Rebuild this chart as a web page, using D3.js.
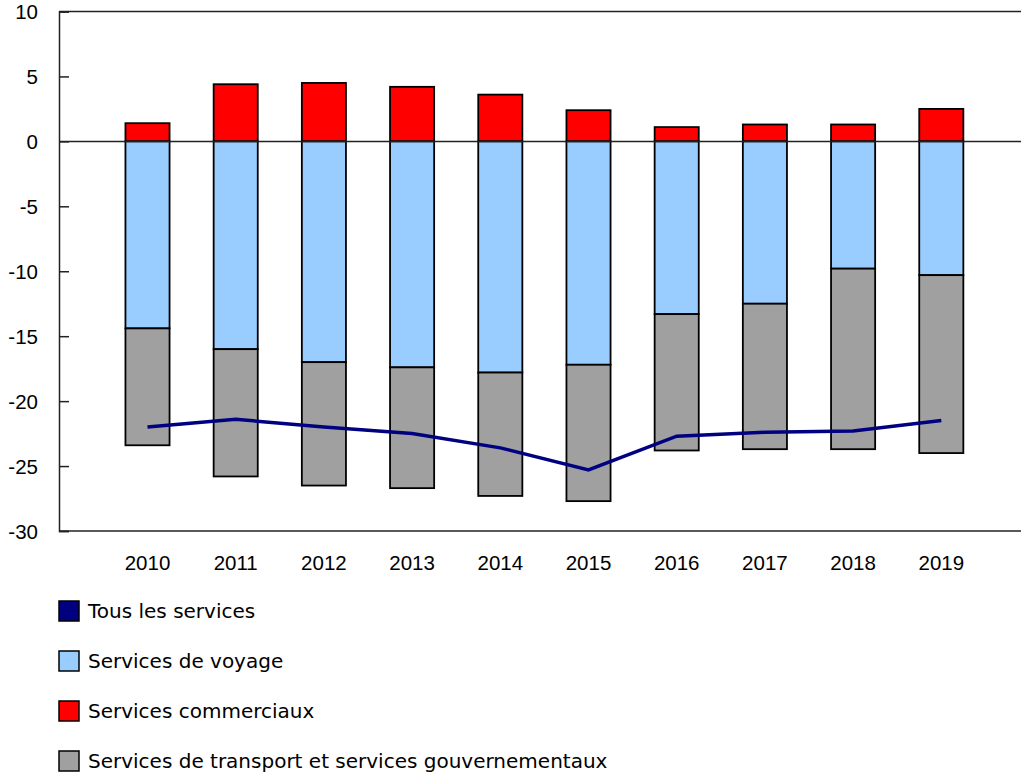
<!DOCTYPE html>
<html>
<head>
<meta charset="utf-8">
<script src="https://cdn.jsdelivr.net/npm/d3@7"></script>
<style>
  body { margin: 0; background: #fff; }
  svg { display: block; font-family: "DejaVu Sans", Verdana, sans-serif; }
  .tick text { font-size: 20.5px; fill: #000; }
  .legend text { font-size: 20px; fill: #000; }
</style>
</head>
<body>
<script>
// data (billions of dollars)
var years = ["2010","2011","2012","2013","2014","2015","2016","2017","2018","2019"];
var commercial = [1.4, 4.4, 4.5, 4.2, 3.6, 2.4, 1.1, 1.3, 1.3, 2.5];
var travel = [-14.4, -16.0, -17.0, -17.4, -17.8, -17.2, -13.3, -12.5, -9.8, -10.3];
var transport = [-9.0, -9.8, -9.5, -9.3, -9.5, -10.5, -10.5, -11.2, -13.9, -13.7];
var allServices = [-22.0, -21.4, -22.0, -22.5, -23.6, -25.3, -22.7, -22.4, -22.3, -21.5];
var yTicks = [10, 5, 0, -5, -10, -15, -20, -25, -30];

var legendItems = [
  {label: "Tous les services", color: "#000080"},
  {label: "Services de voyage", color: "#99CCFF"},
  {label: "Services commerciaux", color: "#FF0000"},
  {label: "Services de transport et services gouvernementaux", color: "#A0A0A0"}
];

var width = 1021, height = 774;
var plotLeft = 59, plotRight = 1021, plotTop = 11.5, plotBottom = 531;

var svg = d3.select("body").append("svg")
  .attr("width", width)
  .attr("height", height);

var y = d3.scaleLinear().domain([-30, 10]).range([plotBottom, plotTop]);
var x = d3.scaleBand().domain(years).range([103.4, 985.4]).paddingInner(0.5).paddingOuter(0.25);

// build rows for the stack
var rows = years.map(function(yr, i){
  return {year: yr, commercial: commercial[i], travel: travel[i], transport: transport[i]};
});
var keys = ["commercial", "travel", "transport"];
var colors = {commercial: "#FF0000", travel: "#99CCFF", transport: "#A0A0A0"};
var series = d3.stack().keys(keys).offset(d3.stackOffsetDiverging)(rows);

// top frame line
svg.append("line").attr("x1", plotLeft).attr("x2", plotRight).attr("y1", y(10)).attr("y2", y(10))
  .attr("stroke", "#222").attr("stroke-width", 1.5);

// y axis with inward ticks, plain hyphen for negatives
var yAxis = svg.append("g")
  .attr("transform", "translate(" + plotLeft + ",0)")
  .call(d3.axisLeft(y).tickValues(yTicks).tickSize(-10).tickPadding(21)
    .tickFormat(function(d){ return String(d); }));
yAxis.select(".domain").attr("stroke", "#222").attr("stroke-width", 1.5);
yAxis.selectAll(".tick line").attr("stroke", "#222").attr("stroke-width", 1.5);
yAxis.selectAll(".tick text").attr("dy", "0.36em");

// bars
svg.selectAll(".series")
  .data(series)
  .enter().append("g")
  .attr("class", "series")
  .attr("fill", function(d){ return colors[d.key]; })
  .selectAll("rect")
  .data(function(d){ return d; })
  .enter().append("rect")
  .attr("x", function(d){ return x(d.data.year); })
  .attr("width", x.bandwidth())
  .attr("y", function(d){ return y(Math.max(d[0], d[1])); })
  .attr("height", function(d){ return Math.abs(y(d[0]) - y(d[1])); })
  .attr("stroke", "#000")
  .attr("stroke-width", 1.8);

// zero line and bottom line over the bars
svg.append("line").attr("x1", plotLeft).attr("x2", plotRight).attr("y1", y(0)).attr("y2", y(0))
  .attr("stroke", "#222").attr("stroke-width", 1.5);
svg.append("line").attr("x1", plotLeft).attr("x2", plotRight).attr("y1", y(-30)).attr("y2", y(-30))
  .attr("stroke", "#222").attr("stroke-width", 1.5);

// x labels
var xAxis = svg.append("g")
  .attr("transform", "translate(0," + plotBottom + ")")
  .call(d3.axisBottom(x).tickSize(0).tickPadding(24));
xAxis.select(".domain").remove();

// total line
var line = d3.line()
  .x(function(d, i){ return x(years[i]) + x.bandwidth() / 2; })
  .y(function(d){ return y(d); });
svg.append("path")
  .datum(allServices)
  .attr("fill", "none")
  .attr("stroke", "#000080")
  .attr("stroke-width", 3.5)
  .attr("d", line);

// legend
var legend = svg.append("g").attr("class", "legend");
var item = legend.selectAll("g")
  .data(legendItems)
  .enter().append("g")
  .attr("transform", function(d, i){ return "translate(59," + (601 + i * 50) + ")"; });
item.append("rect")
  .attr("width", 20).attr("height", 20)
  .attr("fill", function(d){ return d.color; })
  .attr("stroke", "#000").attr("stroke-width", 1.5);
item.append("text")
  .attr("x", 29).attr("y", 17)
  .text(function(d){ return d.label; });
</script>
</body>
</html>
